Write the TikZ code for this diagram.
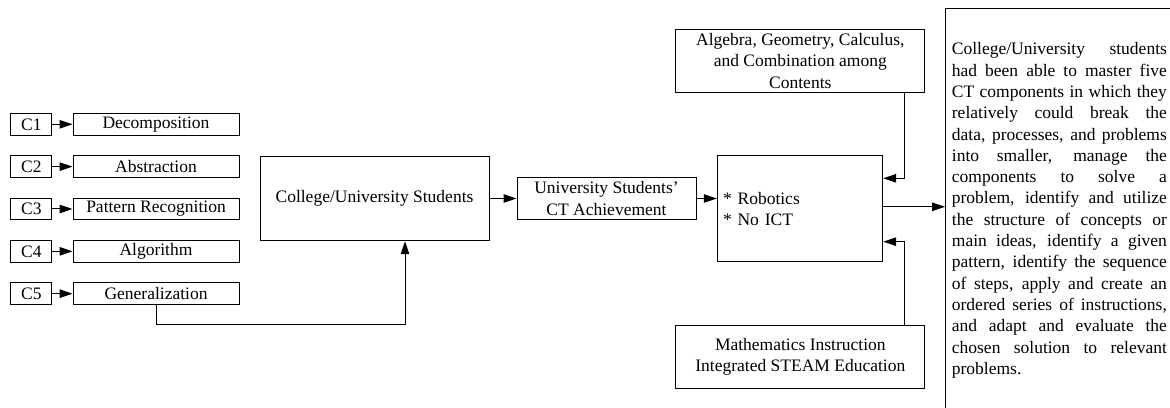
\documentclass[tikz,border=0pt]{standalone}
\usepackage{fontspec}
\setmainfont{Liberation Serif}
\usetikzlibrary{arrows.meta}
\begin{document}
\begin{tikzpicture}[x=1pt,y=1pt,
  every node/.style={font=\fontsize{17.5}{21.3}\selectfont},
  box/.style={draw, line width=1pt, inner sep=0pt, align=center},
  cbox/.style={box, minimum width=41.3pt, minimum height=21.5pt},
  tbox/.style={box, minimum width=166pt, minimum height=21.5pt},
  link/.style={line width=1pt, -{Triangle[length=13pt,width=8.5pt]}}
]
\useasboundingbox (0,0) rectangle (1170,407);
\begin{scope}
\clip (0,0) rectangle (1170,407);

% five CT components
\foreach \i/\lab [count=\k from 0] in {1/Decomposition,2/Abstraction,3/Pattern Recognition,4/Algorithm,5/Generalization}{
  \node[cbox] (C\i) at (31.3,{282.7-42.35*\k}) {C\i};
  \node[tbox] (T\i) at (156,{282.7-42.35*\k}) {\lab};
  \draw[link] (C\i.east) -- (T\i.west);
}

% main chain
\node[box, minimum width=229pt, minimum height=84.5pt] (col) at (374.5,208.5) {College/University Students};
\node[box, minimum width=179pt, minimum height=41.6pt] (ach) at (606.5,208.5) {University Students’\\CT Achievement};
\node[box, minimum height=105.7pt, text width=154pt, inner xsep=5.7pt, align=left] (rob) at (800,198.2) {* Robotics\\{}* No ICT};
\node[box, minimum width=249.3pt, minimum height=63pt] (alg) at (800.3,346.2) {Algebra, Geometry, Calculus,\\and Combination among\\Contents};
\node[box, minimum width=249.3pt, minimum height=63.3pt] (math) at (800.3,50.3) {Mathematics Instruction\\Integrated STEAM Education};

% result box, running off the page edges
\node[draw, line width=1pt, inner sep=0pt, minimum width=240pt, minimum height=430pt, anchor=north west] (res) at (945,399) {};
\node[anchor=north west, text width=215pt, inner sep=0pt, align=justify] (restext) at (951.7,364.5)
{\hyphenpenalty=10000\exhyphenpenalty=10000\tolerance=10000
College/University students\linebreak
had been able to master five\linebreak
CT components in which they\linebreak
relatively could break the\linebreak
data, processes, and problems\linebreak
into smaller, manage the\linebreak
components to solve a\linebreak
problem, identify and utilize\linebreak
the structure of concepts or\linebreak
main ideas, identify a given\linebreak
pattern, identify the sequence\linebreak
of steps, apply and create an\linebreak
ordered series of instructions,\linebreak
and adapt and evaluate the\linebreak
chosen solution to relevant\linebreak
problems.};

% connectors
\draw[link] (T5.south) -- ++(0,-20) -| ([xshift=30.5pt]col.south);
\draw[link] (col.east) -- (ach.west);
\draw[link] (ach.east) -- (ach.east -| rob.west);
\draw[link] ([xshift=104pt]alg.south) |- ([yshift=30.5pt]rob.east);
\draw[link] ([xshift=104pt]math.north) |- ([yshift=-32.9pt]rob.east);
\draw[link] ([yshift=2pt]rob.east) -- ([yshift=2pt]rob.east -| res.west);
\end{scope}
\end{tikzpicture}
\end{document}
